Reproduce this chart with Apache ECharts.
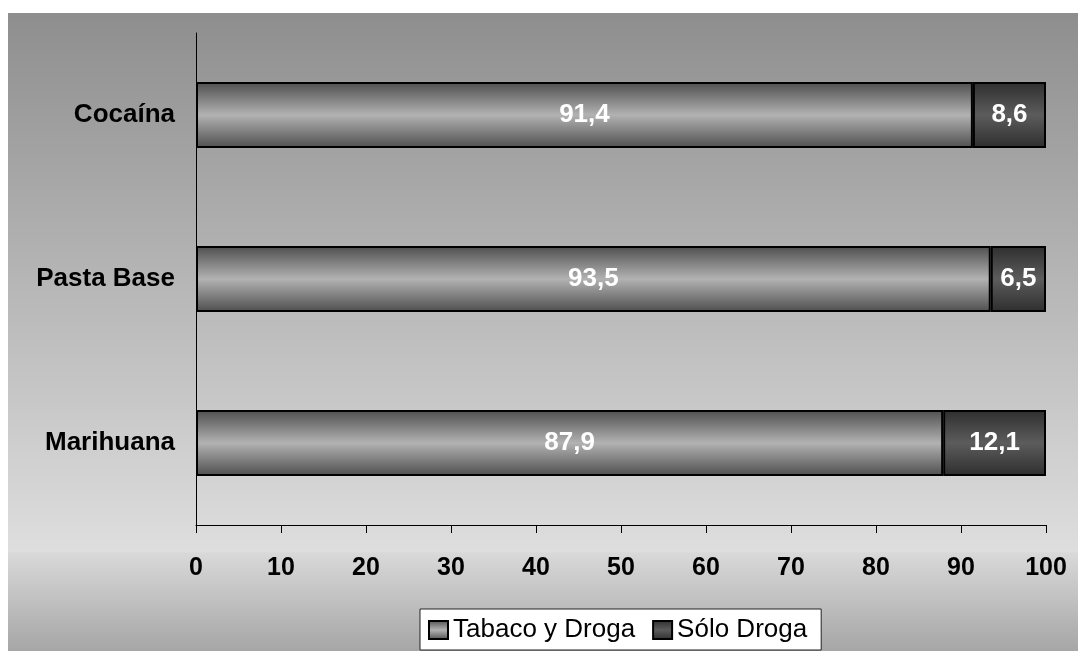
<!DOCTYPE html>
<html><head><meta charset="utf-8">
<script src="https://cdn.jsdelivr.net/npm/echarts@6/dist/echarts.min.js"></script>
<style>html,body{margin:0;padding:0;background:#fff;}#c{width:1078px;height:651px;}</style>
</head><body><div id="c"></div>
<script>
const categories = ['Marihuana', 'Pasta Base', 'Cocaína'];
const tabacoDroga = [87.9, 93.5, 91.4];
const soloDroga = [12.1, 6.5, 8.6];
const seriesNames = ['Tabaco y Droga', 'Sólo Droga'];

const FONT = 'Liberation Sans, Arial, sans-serif';
const chart = echarts.init(document.getElementById('c'), null, {renderer: 'canvas'});
function vgrad(edge, mid) {
  return new echarts.graphic.LinearGradient(0, 0, 0, 1, [
    {offset: 0, color: edge}, {offset: 0.5, color: mid}, {offset: 1, color: edge}
  ]);
}
const fmt = p => String(p.value).replace('.', ',');
const labelStyle = {show: true, position: 'inside', color: '#fff', fontFamily: FONT, fontWeight: 'bold', fontSize: 26, formatter: fmt};
chart.setOption({
  animation: false,
  graphic: [{
    type: 'rect', z: -10, silent: true,
    shape: {x: 8, y: 13, width: 1070, height: 638},
    style: {fill: new echarts.graphic.LinearGradient(0, 0, 0, 1, [
      {offset: 0, color: '#8e8e8e'}, {offset: 0.845, color: '#dedede'},
      {offset: 0.846, color: '#d9d9d9'}, {offset: 1, color: '#a6a6a6'}
    ])}
  }],
  grid: {left: 196, right: 32, top: 33, bottom: 126, containLabel: false},
  legend: {
    bottom: 1, left: 420,
    backgroundColor: '#fff', borderColor: '#222', borderWidth: 1,
    padding: [8, 14, 7, 8], itemGap: 17, itemWidth: 19, itemHeight: 18,
    icon: 'rect',
    textStyle: {fontFamily: FONT, fontSize: 26, color: '#000', padding: [0, 0, 0, 0]},
    data: seriesNames
  },
  xAxis: {
    type: 'value', min: 0, max: 100, interval: 10,
    axisLine: {show: true, lineStyle: {color: '#000', width: 1}},
    axisTick: {show: true, length: 8, lineStyle: {color: '#000'}},
    splitLine: {show: false},
    axisLabel: {color: '#000', fontFamily: FONT, fontWeight: 'bold', fontSize: 25, margin: 31}
  },
  yAxis: {
    type: 'category', data: categories,
    axisLine: {show: true, lineStyle: {color: '#000', width: 1}},
    axisTick: {show: false},
    axisLabel: {color: '#000', fontFamily: FONT, fontWeight: 'bold', fontSize: 26, margin: 21}
  },
  series: [{
    name: seriesNames[0], type: 'bar', stack: 's', data: tabacoDroga, barWidth: 66,
    itemStyle: {color: vgrad('#4e4e4e', '#b2b2b2'), borderColor: '#000', borderWidth: 2},
    label: labelStyle
  }, {
    name: seriesNames[1], type: 'bar', stack: 's', data: soloDroga, barWidth: 66,
    itemStyle: {color: vgrad('#2e2e2e', '#5c5c5c'), borderColor: '#000', borderWidth: 2},
    label: labelStyle
  }]
});
</script></body></html>
